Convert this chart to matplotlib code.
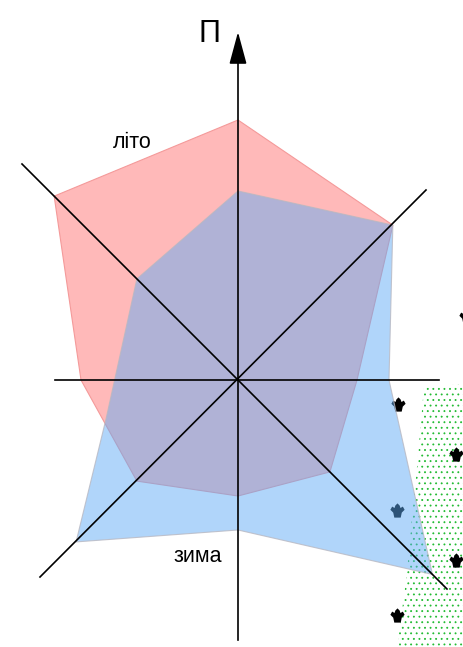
import numpy as np
import matplotlib
matplotlib.use('Agg')
import matplotlib.pyplot as plt
from matplotlib.path import Path
from matplotlib.patches import Polygon

plt.rcParams['font.family'] = ['Liberation Sans', 'DejaVu Sans']
plt.rcParams['hatch.linewidth'] = 0.6

# directions clockwise from north
summer_angles = np.deg2rad([90, 45, 0, -45, -90, -135, 180, 135])
winter_angles = np.deg2rad([90, 45, 0, -45, -90, -135, 196, 135])
summer = [260, 219, 119, 130, 116, 143, 157, 260]
winter = [189, 219, 151, 275, 150, 229, 137, 143]

# field outline and plants, relative to the chart centre
field_x = [186, 226, 226, 159, 160, 169, 174, 179]
field_y = [-7, -4, -267, -267, -260, -193, -137, -87]
plant_x = [160, 218, 159, 218, 159, 228]
plant_y = [-24, -74, -130, -180, -235, 64]

crown = Path(
    [(-0.45, -1), (0.45, -1), (0.6, -0.3), (1, 0.1), (0.75, 0.55), (0.42, 0.35),
     (0.3, 0.7), (0, 1), (-0.3, 0.7), (-0.42, 0.35), (-0.75, 0.55), (-1, 0.1),
     (-0.6, -0.3), (-0.45, -1)])

fig = plt.figure(figsize=(4.64, 6.47), dpi=100)
ax = fig.add_axes([0, 0, 1, 1])
ax.set_xlim(-238, 226)
ax.set_ylim(-267, 380)
ax.axis('off')

ax.add_patch(Polygon(np.column_stack([field_x, field_y]), closed=True, fill=False,
                     hatch='...', edgecolor='#22bb33', linewidth=0, zorder=1))
ax.scatter(plant_x, plant_y, marker=crown, s=105, color='black', linewidths=0, zorder=2)

sx = summer * np.cos(summer_angles)
sy = summer * np.sin(summer_angles)
wx = winter * np.cos(winter_angles)
wy = winter * np.sin(winter_angles)
ax.fill(sx, sy, facecolor='#ffb9b9', edgecolor='#f49a9a', linewidth=0.8, zorder=3)
ax.fill(wx, wy, facecolor=(94 / 255, 171 / 255, 245 / 255, 0.49),
        edgecolor=(0.72, 0.72, 0.76, 0.8), linewidth=0.8, zorder=4)

# axes of the rose
ax.plot([-183, 201], [0, 0], color='black', lw=1.2, zorder=5)
ax.plot([-216, 209], [216, -209], color='black', lw=1.2, zorder=5)
ax.plot([-198, 188], [-197, 190], color='black', lw=1.2, zorder=5)
ax.plot([0, 0], [-260, 325], color='black', lw=1.2, zorder=5)
ax.annotate('', xy=(0, 348), xytext=(0, 318),
            arrowprops=dict(arrowstyle='-|>,head_length=1.0,head_width=0.27',
                            mutation_scale=20, color='black', lw=1.2,
                            shrinkA=0, shrinkB=0), zorder=6)

ax.text(-29, 346, 'П', fontsize=22, ha='center', va='center', zorder=6)
ax.text(-106, 238, 'літо', fontsize=15.5, ha='center', va='center', zorder=6)
ax.text(-40, -177, 'зима', fontsize=15.5, ha='center', va='center', zorder=6)

fig.savefig('out.png', dpi=100)
